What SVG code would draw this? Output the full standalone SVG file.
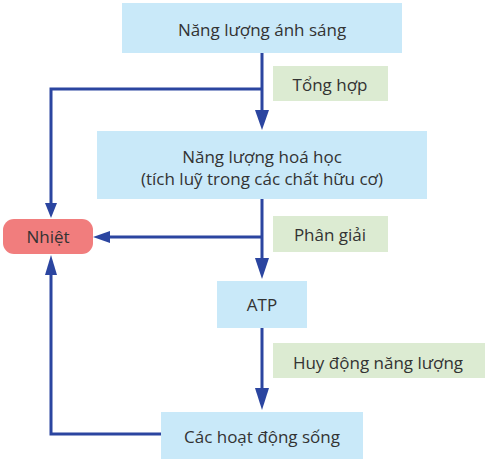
<svg xmlns="http://www.w3.org/2000/svg" width="485" height="464" viewBox="0 0 485 464">
<style>
.box{fill:#c9e9f9}
.lbl{fill:#dcebd2}
.hot{fill:#f17d7d}
text{font-family:"Open Sans","Liberation Sans",sans-serif;font-size:17px;fill:#333;text-anchor:middle;dominant-baseline:central}
.ln{stroke:#2b45a0;stroke-width:3;fill:none}
.ah{fill:#2b45a0}
</style>
<rect width="485" height="464" fill="#fff"/>
<g id="n1"><rect class="box" x="122" y="3" width="280" height="50"/><text x="262" y="29">Năng lượng ánh sáng</text></g>
<g id="l1"><rect class="lbl" x="273" y="66" width="115" height="35"/><text x="330" y="84">Tổng hợp</text></g>
<g id="n2"><rect class="box" x="97" y="131" width="330" height="68"/><text x="262" y="156">Năng lượng hoá học</text><text x="262" y="178">(tích luỹ trong các chất hữu cơ)</text></g>
<g id="nhiet"><rect class="hot" x="3" y="219" width="90" height="35" rx="11"/><text x="48" y="236">Nhiệt</text></g>
<g id="l2"><rect class="lbl" x="273" y="216" width="115" height="36"/><text x="330" y="234">Phân giải</text></g>
<g id="atp"><rect class="box" x="217" y="281" width="90" height="47"/><text x="262" y="304">ATP</text></g>
<g id="l3"><rect class="lbl" x="273" y="343" width="212" height="35"/><text x="378" y="362">Huy động năng lượng</text></g>
<g id="n4"><rect class="box" x="161" y="412" width="202" height="47"/><text x="262" y="436">Các hoạt động sống</text></g>
<g id="connectors">
<path class="ln" d="M262 53V112"/><path class="ah" d="M255 110H269L262 130Z"/>
<path class="ln" d="M262 89H51V205"/><path class="ah" d="M45 203H57L51 218Z"/>
<path class="ln" d="M262 199V260"/><path class="ah" d="M255 258H269L262 279Z"/>
<path class="ln" d="M262 237H108"/><path class="ah" d="M110 231V243L93 237Z"/>
<path class="ln" d="M262 328V390"/><path class="ah" d="M255 388H269L262 410Z"/>
<path class="ln" d="M161 434H51V273"/><path class="ah" d="M45 275H57L51 255Z"/>
</g>
</svg>
